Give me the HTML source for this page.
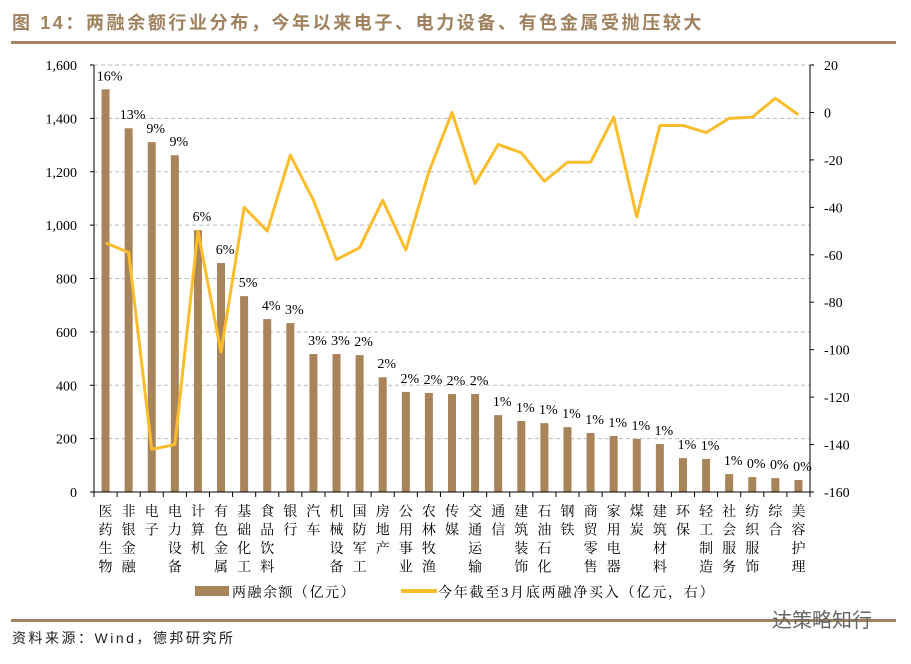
<!DOCTYPE html>
<html><head><meta charset="utf-8"><style>
body{margin:0;background:#fff;width:911px;height:659px;overflow:hidden;font-family:"Liberation Serif","Noto Serif CJK SC",serif}
</style></head><body>
<svg id="c" width="911" height="659" xmlns="http://www.w3.org/2000/svg">
<text x="12" y="29" font-family="'Liberation Sans','Noto Sans CJK SC',sans-serif" font-weight="bold" font-size="18" letter-spacing="2.6" fill="#a0825f">图 14：两融余额行业分布，今年以来电子、电力设备、有色金属受抛压较大</text>
<rect x="11" y="41" width="885" height="3" fill="#a0825f"/>
<rect x="11" y="619" width="885" height="3" fill="#a0825f"/>
<text x="12" y="643" font-family="'Liberation Sans','Noto Sans CJK SC',sans-serif" font-size="14" letter-spacing="2.5" fill="#222">资料来源：Wind，德邦研究所</text>
<text x="772" y="627" font-family="'Liberation Sans','Noto Sans CJK SC',sans-serif" font-size="20" fill="#666">达策略知行</text>
<g id="g"></g>
</svg>
<script>
const categories=["医药生物","非银金融","电子","电力设备","计算机","有色金属","基础化工","食品饮料","银行","汽车","机械设备","国防军工","房地产","公用事业","农林牧渔","传媒","交通运输","通信","建筑装饰","石油石化","钢铁","商贸零售","家用电器","煤炭","建筑材料","环保","轻工制造","社会服务","纺织服饰","综合","美容护理"];
const balance=[1509,1363,1311,1262,981,858,734,648,633,517,517,513,430,375,371,367,367,288,266,258,243,221,210,199,180,127,124,67,56,52,45];
const shareLabels=["16%","13%","9%","9%","6%","6%","5%","4%","3%","3%","3%","2%","2%","2%","2%","2%","2%","1%","1%","1%","1%","1%","1%","1%","1%","1%","1%","1%","0%","0%","0%"];
const netBuy=[-55,-59,-142,-140,-50,-101,-40,-50,-18,-37,-62,-57,-37,-58,-25,0,-30,-13.5,-17,-29,-21,-21,-2,-44,-5.5,-5.5,-8.5,-2.5,-2,6,-1];
const leftTicks=[0,200,400,600,800,1000,1200,1400,1600];
const rightTicks=[20,0,-20,-40,-60,-80,-100,-120,-140,-160];
const X0=94,X1=810,YT=65,YB=492;
const n=categories.length,step=(X1-X0)/n;
const xC=i=>X0+step*(i+0.5);
const yL=v=>YB-(v/1600)*(YB-YT);
const yR=v=>YT+(20-v)/180*(YB-YT);
const g=document.getElementById('g');
const NS="http://www.w3.org/2000/svg";
function mk(t,a,txt){const e=document.createElementNS(NS,t);for(const k in a)e.setAttribute(k,a[k]);if(txt!=null)e.textContent=txt;g.appendChild(e);return e;}
leftTicks.forEach(v=>{
 if(v>0){const l=mk('line',{x1:X0,x2:X1,y1:yL(v),y2:yL(v),stroke:'#bbb','stroke-dasharray':'4,3'});
 
 }
 const t=mk('text',{x:X0-17,y:yL(v)+5,'text-anchor':'end','font-size':'14',fill:'#000'},v.toLocaleString('en-US'));
 
 
 const tk=mk('line',{x1:X0-4,x2:X0,y1:yL(v),y2:yL(v),stroke:'#000'});
 
 
});
rightTicks.forEach(v=>{
 const t=mk('text',{x:X1+14,y:yR(v)+5,'font-size':'14',fill:'#000'},String(v));
 
 
 const tk=mk('line',{x1:X1,x2:X1+4,y1:yR(v),y2:yR(v),stroke:'#000'});
 
 
});
balance.forEach((v,i)=>{
 const b=mk('rect',{x:xC(i)-4,y:yL(v),width:8,height:YB-yL(v),fill:'#a9845a'});
 
 
 const t=mk('text',{x:xC(i)+4,y:yL(v)-9,'text-anchor':'middle','font-size':'14',fill:'#000'},shareLabels[i]);
 
 
});
const ax=mk('line',{x1:X0,x2:X0,y1:YT,y2:YB,stroke:'#000'});


const ax2=mk('line',{x1:X1,x2:X1,y1:YT,y2:YB,stroke:'#000'});


const ax3=mk('line',{x1:X0,x2:X1,y1:YB,y2:YB,stroke:'#000'});


for(let i=0;i<=n;i++){const tk=mk('line',{x1:X0+step*i,x2:X0+step*i,y1:YB,y2:YB+5,stroke:'#000'});
 
 }
const pts=netBuy.map((v,i)=>xC(i)+','+yR(v)).join(' ');
const pl=mk('polyline',{points:pts,fill:'none',stroke:'#fbbd2c','stroke-width':'3','stroke-linejoin':'round'});


categories.forEach((c,i)=>{
 [...c].forEach((ch,j)=>{
  const t=mk('text',{x:xC(i),y:YB+24+j*18.5,'text-anchor':'middle','font-size':'14',fill:'#000'},ch);
  
  
 });
});
const s1=mk('rect',{x:195,y:586,width:34,height:10,fill:'#a9845a'});


const l1=mk('text',{x:232,y:597,'font-size':'14','letter-spacing':'1.5',fill:'#000'},'两融余额（亿元）');


const s2=mk('rect',{x:401,y:589,width:36,height:4,fill:'#fbbd2c'});


const l2=mk('text',{x:438,y:597,'font-size':'14','letter-spacing':'1.8',fill:'#000'},'今年截至3月底两融净买入（亿元，右）');


</script>
</body></html>
